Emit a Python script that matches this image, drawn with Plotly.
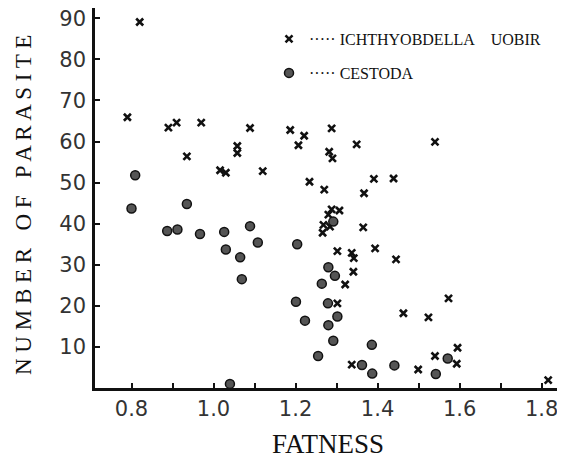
import plotly.graph_objects as go

# ---- data ----
ich_fatness = [0.82, 0.79, 0.89, 0.91, 0.97, 0.935, 1.058, 1.058, 1.016, 1.030,
               1.089, 1.12, 1.187, 1.221, 1.207, 1.234, 1.288, 1.282, 1.290, 1.349,
               1.540, 1.270, 1.391, 1.439, 1.367, 1.288, 1.307, 1.280, 1.268, 1.284,
               1.266, 1.365, 1.302, 1.337, 1.342, 1.394, 1.445, 1.341, 1.321, 1.302,
               1.573, 1.463, 1.524, 1.595, 1.540, 1.593, 1.337, 1.499, 1.816]
ich_count = [89.1, 65.9, 63.4, 64.6, 64.6, 56.4, 58.9, 57.2, 53.0, 52.4,
             63.3, 52.8, 62.8, 61.4, 59.1, 50.2, 63.2, 57.5, 55.9, 59.3,
             59.9, 48.3, 50.9, 51.0, 47.4, 43.5, 43.2, 42.2, 39.7, 39.3,
             37.8, 39.1, 33.3, 32.9, 31.6, 34.0, 31.3, 28.3, 25.2, 20.6,
             21.8, 18.2, 17.2, 9.8, 7.8, 5.9, 5.7, 4.5, 1.9]

ces_fatness = [0.809, 0.800, 0.935, 0.887, 0.912, 0.967, 1.026, 1.089, 1.108, 1.030,
               1.065, 1.069, 1.204, 1.201, 1.223, 1.255, 1.040, 1.292, 1.280, 1.296,
               1.264, 1.279, 1.302, 1.280, 1.292, 1.386, 1.362, 1.387, 1.441, 1.542,
               1.571]
ces_count = [51.8, 43.7, 44.8, 38.2, 38.6, 37.5, 38.0, 39.4, 35.4, 33.7,
             31.8, 26.5, 35.0, 21.0, 16.4, 7.8, 1.0, 40.5, 29.4, 27.3,
             25.4, 20.6, 17.4, 15.3, 11.5, 10.5, 5.6, 3.5, 5.5, 3.4,
             7.2]

x_tickvals = [0.8, 0.9, 1.0, 1.1, 1.2, 1.3, 1.4, 1.5, 1.6, 1.7, 1.8]
x_ticktext = ["0.8", "", "1.0", "", "1.2", "", "1.4", "", "1.6", "", "1.8"]
y_tickvals = [10, 20, 30, 40, 50, 60, 70, 80, 90]
y_ticktext = ["10", "20", "30", "40", "50", "60", "70", "80", "90"]

name_ich = "\u00b7\u00b7\u00b7\u00b7\u00b7\u00a0ICHTHYOBDELLA\u00a0\u00a0\u00a0\u00a0UOBIR"
name_ces = "\u00b7\u00b7\u00b7\u00b7\u00b7\u00a0CESTODA"

SERIF = "Liberation Serif, Times New Roman, serif"
SANS = "DejaVu Sans, Liberation Sans, sans-serif"

fig = go.Figure()
fig.add_trace(go.Scatter(
    x=ich_fatness, y=ich_count, mode="markers", name=name_ich, legend="legend",
    showlegend=True,
    marker=dict(symbol="x-thin", size=7, line=dict(width=2.6, color="#111111"), color="#111111"),
    cliponaxis=False,
))
fig.add_trace(go.Scatter(
    x=ces_fatness, y=ces_count, mode="markers", name=name_ces, legend="legend2",
    showlegend=True,
    marker=dict(symbol="circle", size=9, color="#555555", line=dict(width=1.5, color="#111111")),
    cliponaxis=False,
))

# page body adds an 8px offset; positions below are given in screen pixels
OFF = 8
W, H = 565, 461
L, T = 95 - OFF, 8 - OFF
R = OFF
B = H - (388 - OFF)
pw, ph = W - L - R, H - T - B

def px(xs):
    return (xs - OFF - L) / pw

def py(ys):
    return 1 - (ys - OFF - T) / ph

fig.update_layout(
    width=W, height=H,
    margin=dict(l=L, r=R, t=T, b=B, autoexpand=False),
    paper_bgcolor="white", plot_bgcolor="white",
    showlegend=True,
    font=dict(family=SERIF, color="#111111"),
    legend=dict(x=px(269), y=py(39), xanchor="left", yanchor="middle",
                bgcolor="rgba(0,0,0,0)", font=dict(family=SERIF, size=16, color="#111111")),
    legend2=dict(x=px(269), y=py(73), xanchor="left", yanchor="middle",
                 bgcolor="rgba(0,0,0,0)", font=dict(family=SERIF, size=16, color="#111111")),
    annotations=[
        dict(text="FATNESS", xref="paper", yref="paper",
             x=px(328), y=py(444), xanchor="center", yanchor="middle", showarrow=False,
             font=dict(family=SERIF, size=27, color="#111111")),
        dict(text="N U M B E R \u00a0 O F \u00a0 P A R A S I T E", xref="paper", yref="paper",
             x=px(24), y=py(205), xanchor="center", yanchor="middle", showarrow=False,
             textangle=-90,
             font=dict(family=SERIF, size=23, color="#111111")),
    ],
)

fig.update_xaxes(
    range=[0.711, 1.857], showline=True, linewidth=2.5, linecolor="#111111",
    ticks="inside", ticklen=5, tickwidth=1.5, tickcolor="#111111",
    tickmode="array", tickvals=x_tickvals, ticktext=x_ticktext,
    tickfont=dict(family=SANS, size=21, color="#333333"),
    ticklabeloverflow="allow",
    automargin=False, showgrid=False, zeroline=False, mirror=False,
)
fig.update_yaxes(
    range=[0, 92.5], showline=True, linewidth=2.5, linecolor="#111111",
    ticks="inside", ticklen=5, tickwidth=1.5, tickcolor="#111111",
    tickmode="array", tickvals=y_tickvals, ticktext=y_ticktext,
    tickfont=dict(family=SANS, size=21, color="#333333"),
    ticklabelstandoff=2, ticklabeloverflow="allow",
    automargin=False, showgrid=False, zeroline=False, mirror=False,
)

fig.write_html("out.html")
